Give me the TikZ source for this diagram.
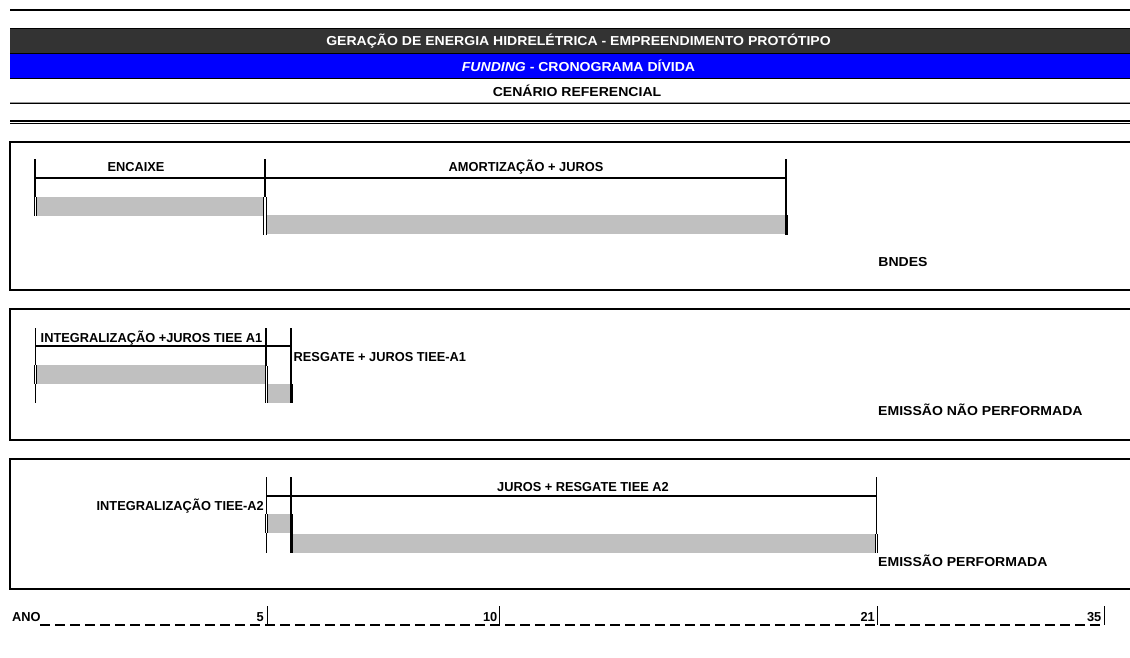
\documentclass[tikz,border=0pt]{standalone}
\usepackage{fontspec}
\setmainfont{Liberation Sans}[FakeStretch=1.08]
\newfontfamily\narrowlbl{Liberation Sans}[FakeStretch=0.985]
\begin{document}
\begin{tikzpicture}[x=1pt,y=-1pt,
  lbl/.style={inner sep=0pt,font=\fontsize{13}{15}\selectfont\bfseries},
  nlbl/.style={inner sep=0pt,font=\fontsize{13}{15}\narrowlbl\bfseries},
  hdr/.style={inner sep=0pt,font=\fontsize{13}{15}\selectfont\bfseries},
  frame/.style={line width=2pt},
  hline/.style={line width=2pt},
  tickline/.style={line width=1.6pt},
  thinline/.style={line width=0.9pt},
  endbar/.style={line width=3pt},
  gbar/.style={fill=barGray,draw=none},
  axisdash/.style={line width=2.6pt,dash pattern=on 10pt off 5pt}
]
\definecolor{barGray}{HTML}{C0C0C0}
\definecolor{darkHead}{HTML}{333333}
\definecolor{blueHead}{HTML}{0000FF}
\useasboundingbox (0,0) rectangle (1130,657);
\fill[white] (0,0) rectangle (1130,657);

% ---------------- header ----------------
\draw[line width=2.2pt] (10,10) -- (1130,10);
\fill[darkHead] (10,28.3) rectangle (1130,53.3);
\fill[blueHead] (10,53.3) rectangle (1130,78.3);
\draw[line width=0.8pt] (10,28.3) -- (1130,28.3);
\draw[line width=0.8pt] (10,53.3) -- (1130,53.3);
\draw[line width=0.8pt] (10,78.3) -- (1130,78.3);
\node[hdr,text=white] (t1) at (578.5,40.8) {GERAÇÃO DE ENERGIA HIDRELÉTRICA - EMPREENDIMENTO PROTÓTIPO};
\node[hdr,text=white] (t2) at (578.5,65.8) {\textit{FUNDING} - CRONOGRAMA DÍVIDA};
\node[hdr] (t3) at (577,90.8) {CENÁRIO REFERENCIAL};
\draw[line width=1pt,black!40] (10,102) -- (1130,102);
\draw[line width=1pt] (10,103.6) -- (1130,103.6);
\draw[line width=2pt] (10,120.7) -- (1130,120.7);
\draw[line width=1pt] (10,123.6) -- (1130,123.6);

% ---------------- box 1 : BNDES ----------------
\draw[frame] (1131,141.5) -- (10,141.5) -- (10,290) -- (1131,290);
\fill[gbar] (36,197) rectangle (264,216);
\fill[gbar] (266,215) rectangle (786,234);
\draw[hline] (35,178) -- (786,178);
\draw[tickline] (35,159) -- (35,197);
\draw[thinline] (34,197) -- (34,216);
\draw[thinline] (36.6,197) -- (36.6,216);
\draw[tickline] (264.8,159) -- (264.8,197);
\draw[thinline] (263.6,197) -- (263.6,235);
\draw[thinline] (266.2,197) -- (266.2,235);
\draw[tickline] (786,159) -- (786,215);
\draw[endbar] (786.5,215) -- (786.5,235);
\node[nlbl] (enc) at (136,167) {ENCAIXE};
\node[nlbl] (amo) at (526,167) {AMORTIZAÇÃO + JUROS};
\node[lbl] (bnd) at (903,262) {BNDES};

% ---------------- box 2 : emissão não performada ----------------
\draw[frame] (1131,309) -- (10,309) -- (10,440) -- (1131,440);
\fill[gbar] (36.5,365) rectangle (265,384);
\fill[gbar] (267,384) rectangle (290,403);
\draw[hline] (35.5,346) -- (291,346);
\draw[thinline] (35.5,328) -- (35.5,365);
\draw[thinline] (34.6,365) -- (34.6,384);
\draw[thinline] (36.6,365) -- (36.6,384);
\draw[thinline] (35.5,384) -- (35.5,403);
\draw[tickline] (265.8,328) -- (265.8,366);
\draw[thinline] (265,366) -- (265,403);
\draw[thinline] (267.2,366) -- (267.2,403);
\draw[tickline] (290.7,328) -- (290.7,384);
\draw[endbar] (291,384) -- (291,403);
\node[nlbl,anchor=west] (int1) at (40.5,338) {INTEGRALIZAÇÃO +JUROS TIEE A1};
\node[nlbl,anchor=west] (res1) at (293.5,357) {RESGATE + JUROS TIEE-A1};
\node[lbl,anchor=west] (enp) at (878,410) {EMISSÃO NÃO PERFORMADA};

% ---------------- box 3 : emissão performada ----------------
\draw[frame] (1131,459) -- (10,459) -- (10,589) -- (1131,589);
\fill[gbar] (267,514) rectangle (290,533);
\fill[gbar] (292,534) rectangle (875,553);
\draw[hline] (266,496) -- (876,496);
\draw[thinline] (266,477) -- (266,514);
\draw[thinline] (265,514) -- (265,533);
\draw[thinline] (267.2,514) -- (267.2,533);
\draw[thinline] (266,533) -- (266,553);
\draw[tickline] (291,477) -- (291,514);
\draw[endbar] (291.3,514) -- (291.3,553);
\draw[tickline] (876.3,477) -- (876.3,534);
\draw[thinline] (875.3,534) -- (875.3,553);
\draw[thinline] (877.5,534) -- (877.5,553);
\node[nlbl,anchor=east] (int2) at (264,506) {INTEGRALIZAÇÃO TIEE-A2};
\node[nlbl] (jur2) at (583,487) {JUROS + RESGATE TIEE A2};
\node[lbl,anchor=west] (ep) at (878,561) {EMISSÃO PERFORMADA};

% ---------------- axis ----------------
\draw[axisdash] (40,625) -- (1104,625);
\draw[line width=0.8pt] (267.5,606) -- (267.5,625);
\draw[line width=0.8pt] (499.5,606) -- (499.5,625);
\draw[line width=0.8pt] (877,606) -- (877,625);
\draw[line width=0.8pt] (1104,606) -- (1104,625);
\node[nlbl,anchor=west] (ano) at (12,617) {ANO};
\node[nlbl,anchor=east] (y5) at (264,617) {5};
\node[nlbl,anchor=east] (y10) at (497.5,617) {10};
\node[nlbl,anchor=east] (y21) at (875,617) {21};
\node[nlbl,anchor=east] (y35) at (1101.5,617) {35};
\end{tikzpicture}
\end{document}
